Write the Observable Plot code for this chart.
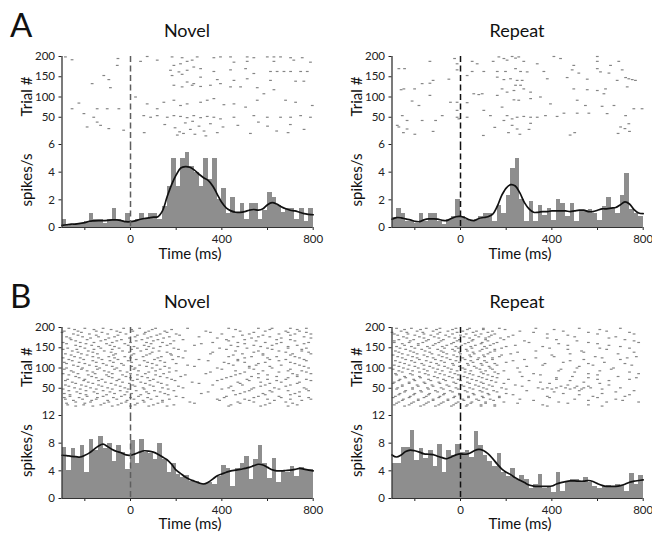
<!DOCTYPE html>
<html><head><meta charset="utf-8">
<script src="https://cdn.jsdelivr.net/npm/d3@7"></script>
<script src="https://cdn.jsdelivr.net/npm/@observablehq/plot@0.6"></script>
<style>
html,body{margin:0;padding:0;background:#fff;overflow:hidden}
#fig{position:relative;width:652px;height:533px;background:#fff}
</style></head><body><div id="fig"></div>
<script>
// ---------- data ----------
const binWidthMs = 20;
const binStartsMs = d3.range(-300, 800, binWidthMs);      // 55 bins
const smoothTimesMs = d3.range(-300, 801, 20);            // 56 points
const xTicks = [-200, 0, 200, 400, 600, 800];
const trialTicks = [50, 100, 150, 200];

const aNovelRate = [0.6,0.2,0.2,0.3,0.3,0.4,1.0,0.6,0.6,0.3,0.6,1.4,0.6,0.4,1.0,0.4,0.6,1.0,0.6,1.0,1.0,0.6,1.5,3.0,5.0,3.0,5.0,5.4,4.4,4.0,3.0,5.0,3.5,5.0,2.0,2.8,1.0,2.2,1.0,1.7,0.6,1.7,1.7,0.6,1.2,2.5,2.2,1.6,1.1,1.4,1.4,0.6,1.4,0.4,1.4];
const aNovelSmooth = [0.15,0.2,0.25,0.25,0.3,0.35,0.45,0.48,0.5,0.5,0.52,0.55,0.55,0.5,0.42,0.42,0.48,0.58,0.65,0.7,0.75,0.78,1.2,2.2,3.1,3.8,4.3,4.4,4.35,4.15,3.85,3.6,3.4,3.0,2.4,1.8,1.4,1.2,1.1,1.1,1.15,1.25,1.3,1.25,1.35,1.65,1.8,1.7,1.5,1.35,1.25,1.2,1.1,1.0,0.95,0.92];
const aRepeatRate = [0.7,1.4,1.0,0.4,0.4,0.3,1.0,0.4,1.0,1.0,0.4,0.2,0.6,0.8,2.0,0.8,0.6,0.4,0.6,0.8,1.0,1.0,0.4,1.6,1.0,2.3,4.3,5.0,2.0,0.4,1.9,0.4,1.6,0.9,1.4,0.5,2.0,1.7,0.8,1.7,0.4,1.2,1.2,1.3,1.0,0.5,1.5,2.2,1.4,1.0,2.3,3.9,1.3,1.0,0.8];
const aRepeatSmooth = [0.6,0.72,0.7,0.62,0.55,0.45,0.42,0.55,0.62,0.62,0.6,0.52,0.5,0.65,0.78,0.8,0.7,0.55,0.5,0.65,0.72,0.78,0.95,1.5,2.3,2.85,3.1,3.0,2.5,1.8,1.35,1.1,1.1,1.15,1.15,1.2,1.2,1.2,1.2,1.15,1.2,1.25,1.25,1.15,1.15,1.25,1.35,1.35,1.4,1.45,1.65,1.85,1.7,1.3,1.05,1.0];
const bNovelRate = [7.4,4.1,7.3,5.9,7.6,3.8,8.6,7.0,9.0,7.3,7.9,5.4,7.6,6.6,4.2,8.4,5.1,8.6,6.6,6.5,5.6,7.9,5.6,3.8,5.0,3.5,3.0,3.3,2.5,2.4,2.2,2.2,2.3,2.0,3.2,4.7,4.4,1.8,4.4,5.0,6.1,2.7,5.7,7.6,5.1,2.9,5.8,2.3,4.1,3.8,4.6,3.2,4.5,4.2,4.2];
const bNovelSmooth = [6.25,6.2,6.1,6.05,6.0,6.25,6.6,7.1,7.6,7.85,7.5,7.1,6.8,6.6,6.3,6.25,6.45,6.7,6.9,6.85,6.7,6.4,6.0,5.6,4.95,4.1,3.6,3.1,2.75,2.5,2.25,2.1,2.35,2.8,3.3,3.55,3.8,4.0,4.1,4.2,4.35,4.5,4.75,4.95,4.85,4.5,4.15,4.0,4.0,4.05,4.1,4.2,4.35,4.25,4.1,4.0];
const bRepeatRate = [5.0,5.0,7.4,7.4,9.9,5.5,7.3,5.8,7.0,4.6,7.75,3.7,7.0,6.2,7.75,6.6,7.0,6.0,9.7,7.6,6.2,5.4,4.6,6.5,3.7,3.2,4.4,2.7,3.3,2.7,1.5,2.0,3.4,1.4,1.8,0.9,3.7,1.05,2.5,2.8,2.8,2.3,3.0,2.3,1.8,1.5,1.8,1.9,1.7,2.0,1.9,1.05,3.6,2.0,3.3];
const bRepeatSmooth = [6.3,6.0,6.3,6.8,7.0,6.9,6.7,6.45,6.4,6.35,6.1,5.9,5.75,6.0,6.3,6.45,6.4,6.55,6.9,7.1,6.95,6.5,5.8,5.0,4.3,3.8,3.45,3.0,2.65,2.3,1.95,1.8,1.75,1.75,1.75,1.8,2.1,2.3,2.45,2.55,2.55,2.5,2.5,2.6,2.45,2.15,1.9,1.75,1.75,1.75,1.85,2.05,2.35,2.5,2.6,2.7];

// raster spikes: [time ms, trial]
const aNovelSpikes = [[-285,199],[-256,192],[-55,195],[-58,178],[73,200],[44,188],[117,191],[182,199],[226,197],[248,188],[270,191],[190,178],[219,182],[292,199],[365,197],[394,199],[438,199],[511,199],[540,197],[599,199],[628,199],[657,199],[701,197],[752,197],[715,191],[628,188],[511,188],[453,186],[788,186],
[175,166],[212,162],[248,166],[277,174],[307,170],[365,163],[438,167],[504,170],[613,163],[642,163],[672,163],[701,163],[745,163],[774,163],
[-117,153],[-95,143],[-168,133],[-88,123],[182,153],[226,156],[248,137],[307,149],[277,133],[380,143],[453,141],[511,145],[540,158],[613,141],[723,139],[759,139],
[190,129],[226,125],[270,129],[307,126],[350,129],[394,133],[438,125],[482,125],[555,123],[628,118],
[-226,85],[-256,71],[-204,59],[-146,71],[-102,71],[-51,71],[22,100],[73,83],[117,71],[146,87],[190,92],[219,79],[248,83],[307,87],[336,92],[365,96],[409,81],[453,83],[504,75],[555,92],[584,108],[679,92],[723,87],[796,79],
[58,54],[88,50],[117,54],[161,50],[190,54],[219,52],[248,49],[277,54],[307,49],[336,52],[365,50],[394,46],[453,50],[540,54],[599,50],[657,50],[701,50],[745,54],[788,50],[-161,50],[-146,38],[-131,30],
[-190,26],[-95,22],[-30,18],[60,12],[150,32],[195,24],[215,14],[240,36],[262,20],[282,8],[300,28],[322,16],[350,34],[380,12],[405,26],[470,30],[525,10],[600,28],[640,16],[700,32],[760,20],[205,6],[232,10],[330,4],[272,40],[560,38],[690,12]];
const aRepeatSpikes = [[-270,170],[-245,170],[-134,188],[-26,195],[-15,182],[51,188],[73,182],[143,188],[168,199],[190,195],[204,191],[226,200],[241,196],[255,199],[277,188],[336,182],[409,200],[438,195],[599,200],[599,188],[657,178],[693,188],[496,178],[489,167],[518,159],
[-248,120],[-260,118],[-201,120],[-168,133],[-134,134],[-120,141],[-51,144],[-15,167],[29,153],[51,163],[102,163],[161,163],[197,163],[241,170],[263,163],[292,162],[365,163],[380,145],[467,148],[555,144],[599,170],[613,162],[650,159],[686,141],[708,167],[723,148],[737,145],[752,143],[766,141],
[161,149],[190,143],[219,145],[248,141],[270,141],[241,129],[263,129],[182,120],[204,112],[234,116],[277,120],[307,112],[496,120],[555,118],[635,120],[730,125],[628,108],[599,116],
[-212,90],[-182,79],[-134,104],[-80,54],[-44,87],[-15,87],[29,86],[58,108],[80,106],[95,108],[161,104],[182,75],[234,93],[255,92],[307,96],[350,100],[394,83],[511,92],[547,79],[620,77],[672,79],[759,71],[795,71],
[-255,54],[-234,42],[-168,42],[-109,42],[-15,50],[29,50],[102,67],[131,54],[204,54],[226,46],[248,50],[277,52],[307,50],[336,50],[372,54],[423,52],[453,60],[511,60],[562,60],[642,59],[723,54],[737,34],[701,26],[-277,30],[-270,26],[-234,21],[-15,67],[-7,46],[190,42],[226,30],[248,21],[307,35],
[-250,12],[-200,8],[-120,15],[100,5],[150,25],[210,12],[260,8],[300,20],[480,6],[500,12],[690,10],[720,22],[740,15]];
// dense rasters: [trial, [spike times ms]]
const bNovelRows = [
[198,[-270,-200,-120,-30,40,110,250,430,560,620,700,770]],
[195,[-245,-160,-85,5,95,180,460,610,730]],
[191,[-290,-230,-150,-60,10,80,150,330,480,590,680,740]],
[188,[-300,-215,-125,-45,65,160,350,540,690,770]],
[184,[-250,-180,-100,-20,60,130,200,400,520,650,720,790]],
[181,[-230,-150,-55,30,115,215,490,580,700]],
[177,[-280,-210,-140,-70,20,90,170,300,450,560,610,760]],
[174,[-265,-175,-95,-5,75,145,380,530,660,790]],
[170,[-260,-190,-110,-40,50,120,230,420,500,640,700]],
[167,[-240,-130,-60,25,100,190,430,550,720]],
[163,[-295,-220,-160,-80,0,70,140,360,470,590,660,780]],
[160,[-280,-195,-105,-25,90,175,310,500,640,760]],
[156,[-240,-170,-90,-10,60,160,280,440,540,620,730]],
[153,[-220,-140,-70,15,80,130,470,570,690]],
[149,[-275,-200,-130,-50,30,100,190,390,510,600,690,770]],
[146,[-295,-235,-160,-80,5,70,210,420,620,750]],
[142,[-255,-185,-115,-35,45,125,240,460,560,650,750]],
[139,[-230,-165,-85,-5,95,160,360,540,680,780]],
[135,[-285,-215,-145,-65,15,85,175,350,490,580,710,790]],
[132,[-260,-190,-75,5,70,180,450,580,700]],
[128,[-245,-165,-95,-25,55,135,210,430,530,640,720]],
[125,[-295,-220,-140,-70,0,120,230,500,600,740]],
[121,[-270,-205,-125,-55,25,105,185,300,470,610,680,760]],
[118,[-255,-165,-90,-10,60,130,340,470,650,770]],
[114,[-290,-225,-150,-75,5,75,150,410,500,590,700]],
[111,[-280,-200,-120,-40,95,200,430,560,720]],
[107,[-250,-180,-105,-30,40,115,250,450,550,660,740]],
[104,[-230,-150,-80,5,70,150,280,520,610,760]],
[100,[-280,-210,-135,-60,20,95,170,380,520,620,780]],
[97,[-290,-215,-145,-70,15,130,400,540,700]],
[93,[-260,-190,-115,-45,35,110,200,460,580,690,750]],
[90,[-250,-165,-95,-15,80,170,350,500,650,770]],
[86,[-295,-230,-155,-80,0,65,145,330,480,560,710,790]],
[83,[-270,-185,-105,-35,30,110,240,460,600,730]],
[79,[-240,-170,-95,-20,50,130,220,440,530,640,730]],
[76,[-225,-150,-80,0,75,160,420,560,690]],
[72,[-275,-200,-125,-50,30,100,180,400,510,600,680,770]],
[69,[-285,-205,-140,-60,10,85,195,380,520,640,790]],
[65,[-255,-185,-110,-35,45,120,270,470,570,660,740]],
[62,[-240,-165,-85,-5,65,135,300,480,610,730]],
[58,[-285,-215,-140,-65,10,85,160,360,490,590,700]],
[55,[-270,-195,-125,-45,20,100,210,440,570,680]],
[51,[-245,-175,-100,-25,55,140,230,430,540,630,760]],
[48,[-295,-220,-150,-80,-10,60,165,400,530,650,770]],
[44,[-270,-195,-120,-45,25,105,190,450,520,610,690,780]],
[41,[-235,-160,-90,-15,70,130,340,500,620,740]],
[37,[-290,-220,-145,-70,5,80,150,310,480,580,720]],
[34,[-265,-195,-105,-25,45,165,460,590,700]],
[30,[-265,-190,-120,-40,35,115,200,420,560,650,740]],
[27,[-290,-225,-145,-75,0,75,230,410,540,660,780]],
[23,[-285,-210,-150,-60,15,90,170,380,500,600,700,790]],
[20,[-250,-170,-100,-15,55,140,390,520,630,750]],
[16,[-240,-175,-95,-20,60,140,260,470,540,680]],
[13,[-280,-200,-115,-40,30,120,280,480,610,710]],
[9,[-275,-205,-130,-55,20,100,190,440,590,730]],
[6,[-240,-165,-80,0,80,160,430,570,690]]];
const bRepeatRows = [
[198,[-280,-215,-150,-90,-20,40,100,170,330,520,700]],
[195,[-245,-175,-105,-35,30,100,195,410,610]],
[191,[-260,-190,-120,-55,10,70,140,260,450,640]],
[188,[-300,-235,-165,-90,-15,55,120,320,560,740]],
[184,[-290,-230,-160,-100,-35,25,90,150,380,600,760]],
[181,[-275,-200,-130,-65,0,65,135,230,470]],
[177,[-250,-180,-115,-50,15,80,125,210,500,680]],
[174,[-235,-160,-95,-25,40,110,175,380,650]],
[170,[-270,-205,-140,-75,-5,55,110,190,420,720]],
[167,[-290,-220,-150,-85,-15,50,120,280,510,760]],
[163,[-290,-225,-165,-95,-30,35,95,160,300,560,780]],
[160,[-255,-185,-110,-40,20,90,145,430,600]],
[156,[-245,-185,-120,-60,5,65,130,240,470,650]],
[153,[-280,-215,-145,-80,-20,45,105,200,360,700]],
[149,[-265,-200,-135,-70,-10,50,115,180,390,610,740]],
[146,[-240,-170,-100,-35,25,95,150,470,640]],
[142,[-285,-220,-155,-85,-25,30,85,150,330,530]],
[139,[-270,-205,-135,-75,-5,55,130,250,540,760]],
[135,[-255,-190,-125,-60,0,60,120,220,480,690]],
[132,[-295,-230,-160,-95,-30,40,100,180,400]],
[128,[-275,-210,-145,-80,-15,45,105,170,410,590,770]],
[125,[-255,-190,-120,-60,10,80,140,330,620,730]],
[121,[-240,-180,-110,-45,20,75,140,280,540,700]],
[118,[-285,-215,-150,-85,-20,45,105,230,480]],
[114,[-265,-200,-130,-70,-5,55,115,200,450,630]],
[111,[-245,-170,-105,-35,30,90,150,370,560,720]],
[107,[-290,-225,-160,-95,-30,35,95,160,360,580,750]],
[104,[-270,-200,-135,-70,-5,60,125,290,520]],
[100,[-250,-185,-120,-55,10,70,130,250,510,670]],
[97,[-295,-230,-160,-100,-40,20,85,140,440,660]],
[93,[-270,-210,-145,-80,-15,45,110,190,430,610]],
[90,[-255,-180,-110,-45,20,90,150,260,500,740]],
[86,[-285,-220,-155,-90,-25,40,100,165,320,560,780]],
[83,[-280,-210,-140,-70,-10,55,120,350,600]],
[79,[-245,-180,-115,-50,15,80,140,270,490,690]],
[76,[-240,-175,-100,-35,30,95,160,420,560,770]],
[72,[-265,-205,-140,-75,-10,50,115,210,420,600,740]],
[69,[-270,-200,-130,-65,0,70,135,300,480,650]],
[65,[-290,-225,-160,-95,-30,30,90,155,350,540]],
[62,[-295,-225,-155,-90,-20,40,100,190,390,610]],
[58,[-255,-190,-125,-60,5,65,125,240,470,650]],
[55,[-255,-185,-120,-50,15,80,140,270,440,510,560]],
[51,[-275,-210,-145,-85,-20,40,100,180,340,380,420,460,500,540,570,700]],
[48,[-280,-210,-140,-75,-10,55,115,200,360,400,480,530,620]],
[44,[-240,-175,-110,-45,20,85,145,290,520,760]],
[41,[-245,-170,-100,-35,30,95,160,410,680]],
[37,[-265,-200,-135,-70,-5,55,120,200,450,620]],
[34,[-270,-205,-140,-75,-5,60,125,230,520,740]],
[30,[-285,-220,-150,-90,-25,35,95,170,380,580,720]],
[27,[-295,-225,-160,-95,-30,35,100,170,390,600]],
[23,[-250,-185,-120,-55,10,70,130,260,500,680]],
[20,[-255,-185,-120,-55,15,80,145,320,560,710]],
[16,[-270,-205,-140,-75,-10,50,110,190,430,640,780]],
[13,[-280,-215,-150,-85,-20,45,110,250,470]],
[9,[-290,-225,-160,-95,-30,30,90,150,360,560]],
[6,[-245,-175,-110,-40,25,90,150,380,620]]];

// ---------- drawing ----------
const FONT = "Lato, 'Open Sans', sans-serif";
const fig = document.getElementById("fig");
const rowsToPairs = rows => rows.flatMap(([tr, ts]) => ts.map(t => [t, tr]));
const spikeDash = {draw(ctx) { ctx.moveTo(-1.4, -0.6); ctx.lineTo(1.4, -0.6); ctx.lineTo(1.4, 0.6); ctx.lineTo(-1.4, 0.6); ctx.closePath(); }};

function panel({left, top, width, marginRight, spikes, rate, smooth, yMax, yTicks, dash}) {
  const baseStyle = {background: "transparent", fontFamily: FONT, fontSize: "11.5px", color: "#222", overflow: "visible"};
  const raster = Plot.plot({
    width, height: 98, marginTop: 10, marginBottom: 0, marginLeft: 61.5, marginRight,
    style: baseStyle,
    x: {domain: [-300, 800], axis: null},
    y: {domain: [0, 200], insetBottom: 7, ticks: trialTicks, tickFormat: d => d, tickSize: 3, tickPadding: 4, label: null},
    marks: [
      Plot.dot(spikes, {x: d => d[0], y: d => d[1], symbol: spikeDash, fill: "#858585", stroke: null}),
      Plot.ruleX([-300], {stroke: "#333", strokeWidth: 1.3}),
      Plot.ruleX([0], {stroke: dash, strokeWidth: 1.5, strokeDasharray: "6,3.5"})
    ]
  });
  const bins = binStartsMs.map((t, i) => ({t0: t, t1: t + binWidthMs, v: rate[i]}));
  const curve = smoothTimesMs.map((t, i) => ({t, v: smooth[i]}));
  const psth = Plot.plot({
    width, height: 125, marginTop: 10, marginBottom: 32, marginLeft: 61.5, marginRight,
    style: baseStyle,
    x: {domain: [-300, 800], ticks: xTicks, tickFormat: d => d % 400 === 0 ? String(d) : "", tickSize: 3, tickPadding: 4, label: null},
    y: {domain: [0, yMax], ticks: yTicks, tickFormat: d => String(d), tickSize: 3, tickPadding: 4, label: null},
    marks: [
      Plot.rectY(bins, {x1: "t0", x2: "t1", y: "v", fill: "#8e8e8e", shapeRendering: "crispEdges"}),
      Plot.line(curve, {x: "t", y: "v", stroke: "#111", strokeWidth: 1.7, curve: "catmull-rom"}),
      Plot.ruleX([0], {stroke: dash, strokeWidth: 1.5, strokeDasharray: "6,3.5"}),
      Plot.ruleX([-300], {stroke: "#333", strokeWidth: 1.3}),
      Plot.ruleY([0], {stroke: "#333", strokeWidth: 1.2})
    ]
  });
  for (const [el, t] of [[raster, top], [psth, top + 88]]) {
    el.style.position = "absolute";
    el.style.left = left + "px";
    el.style.top = t + "px";
    fig.appendChild(el);
  }
}

panel({left: 0, top: 46, width: 330, marginRight: 17.3, spikes: aNovelSpikes, rate: aNovelRate, smooth: aNovelSmooth, yMax: 6, yTicks: [0,2,4,6], dash: "#5e5e5e"});
panel({left: 330, top: 46, width: 322, marginRight: 9.3, spikes: aRepeatSpikes, rate: aRepeatRate, smooth: aRepeatSmooth, yMax: 6, yTicks: [0,2,4,6], dash: "#111"});
panel({left: 0, top: 316.7, width: 330, marginRight: 17.3, spikes: rowsToPairs(bNovelRows), rate: bNovelRate, smooth: bNovelSmooth, yMax: 12, yTicks: [0,4,8,12], dash: "#5e5e5e"});
panel({left: 330, top: 316.7, width: 322, marginRight: 9.3, spikes: rowsToPairs(bRepeatRows), rate: bRepeatRate, smooth: bRepeatSmooth, yMax: 12, yTicks: [0,4,8,12], dash: "#111"});

// ---------- text overlay ----------
const ov = d3.select(fig).append("svg")
  .attr("width", 652).attr("height", 533)
  .style("position", "absolute").style("left", 0).style("top", 0)
  .style("font-family", FONT).style("fill", "#111");
const panelLetters = [["A", 0], ["B", 270.7]];
for (const [s, dy] of panelLetters) ov.append("text").attr("x", 10).attr("y", 37 + dy).attr("font-size", 33).text(s);
const conditions = [["Novel", 0, 187], ["Repeat", 330, 517]];
for (const [, dy] of panelLetters) {
  for (const [name, dx, cx] of conditions) {
    ov.append("text").attr("x", cx).attr("y", 37 + dy).attr("text-anchor", "middle").attr("font-size", 18).text(name);
    ov.append("text").attr("transform", `translate(${31.5 + dx},${96.5 + dy}) rotate(-90)`).attr("text-anchor", "middle").attr("font-size", 15).text("Trial #");
    ov.append("text").attr("transform", `translate(${31.5 + dx},${180 + dy}) rotate(-90)`).attr("text-anchor", "middle").attr("font-size", 15).text("spikes/s");
    ov.append("text").attr("x", cx + 3).attr("y", 258.5 + dy).attr("text-anchor", "middle").attr("font-size", 15).text("Time (ms)");
  }
}
</script></body></html>
